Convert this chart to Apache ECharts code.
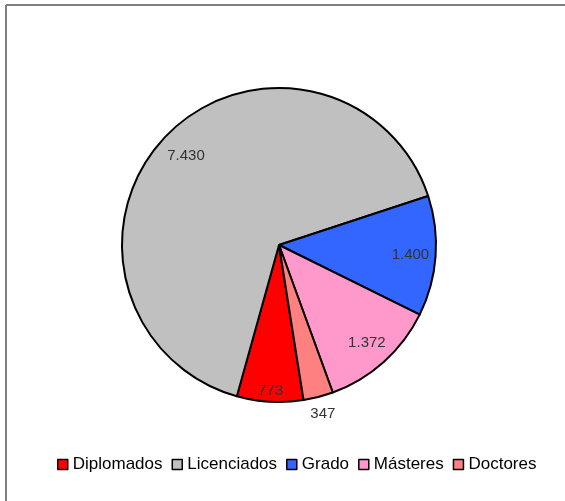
<!DOCTYPE html>
<html>
<head>
<meta charset="utf-8">
<script src="https://cdn.jsdelivr.net/npm/echarts@6/dist/echarts.min.js"></script>
<style>
  html, body { margin: 0; padding: 0; background: #fff; }
  #chart { width: 565px; height: 501px; }
</style>
</head>
<body>
<div id="chart"></div>
<script>
// datos del gráfico
const categories = ['Diplomados', 'Licenciados', 'Grado', 'Másteres', 'Doctores'];
const values = [773, 7430, 1400, 1372, 347];
const colors = ['#FF0000', '#C0C0C0', '#3366FF', '#FF99CC', '#FF8080'];

const R = 157;
const CENTER = [279, 245];

// 7430 -> "7.430"
function fmt(v) {
  return String(v).replace(/\B(?=(\d{3})+(?!\d))/g, '.');
}

const pieData = categories.map((name, i) => ({
  name: name,
  value: values[i],
  itemStyle: { color: colors[i] },
}));

// capa transparente solo para colocar las etiquetas a cierta distancia del centro
function labelLayer(inner, outer, names) {
  return {
    type: 'pie',
    silent: true,
    legendHoverLink: false,
    center: CENTER,
    radius: [inner, outer],
    startAngle: -81,
    clockwise: true,
    animation: false,
    itemStyle: { color: 'transparent', borderWidth: 0 },
    emphasis: { disabled: true },
    labelLine: { show: false },
    data: categories.map((name, i) => ({
      name: name,
      value: values[i],
      itemStyle: { color: 'transparent' },
      label: {
        show: names.indexOf(name) >= 0,
        position: 'inside',
        formatter: (p) => fmt(p.value),
        color: '#333',
        fontSize: 15,
        fontFamily: 'Liberation Sans, Arial, sans-serif',
      },
    })),
  };
}

const chart = echarts.init(document.getElementById('chart'), null, { renderer: 'canvas' });

const option = {
  animation: false,
  color: colors,
  graphic: [
    // marco gris (arriba e izquierda)
    { type: 'line', shape: { x1: 6, y1: 5, x2: 565, y2: 5 }, style: { stroke: '#7f7f7f', lineWidth: 2 } },
    { type: 'line', shape: { x1: 6, y1: 5, x2: 6, y2: 501 }, style: { stroke: '#7f7f7f', lineWidth: 2 } },
  ],
  legend: {
    data: categories,
    left: 52,
    top: 451,
    icon: 'rect',
    itemWidth: 10,
    itemHeight: 10,
    itemGap: 9,
    selectedMode: false,
    itemStyle: { borderColor: '#000', borderWidth: 1.5 },
    textStyle: {
      color: '#000',
      fontSize: 17,
      fontFamily: 'Liberation Sans, Arial, sans-serif',
    },
  },
  series: [
    {
      type: 'pie',
      center: CENTER,
      radius: [0, R],
      startAngle: -81,
      clockwise: true,
      label: { show: false },
      labelLine: { show: false },
      emphasis: { disabled: true },
      itemStyle: { borderColor: '#000', borderWidth: 2 },
      data: pieData,
    },
    labelLayer(R * 0.6, R, ['Licenciados']),
    labelLayer(R * 0.64, R, ['Grado', 'Másteres']),
    labelLayer(R * 0.82, R, ['Diplomados']),
    labelLayer(R, R * 1.19, ['Doctores']),
  ],
};

chart.setOption(option);
</script>
</body>
</html>
